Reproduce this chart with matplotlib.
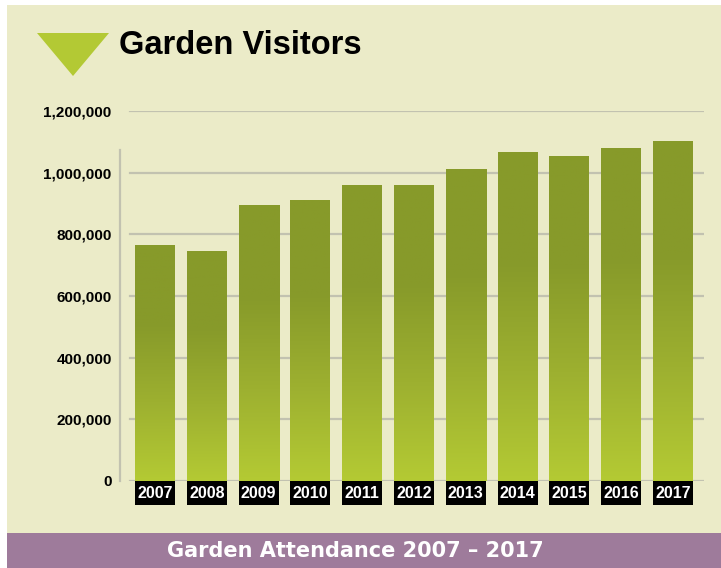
import numpy as np
import matplotlib.pyplot as plt
from matplotlib.patches import Rectangle, Polygon
from matplotlib.colors import LinearSegmentedColormap

# data
years = ['2007', '2008', '2009', '2010', '2011', '2012', '2013', '2014', '2015', '2016', '2017']
visitors = [765000, 743000, 895000, 911000, 960000, 960000, 1009000, 1064000, 1054000, 1080000, 1100000]
yticks = [0, 200000, 400000, 600000, 800000, 1000000, 1200000]
title = 'Garden Visitors'
footer = 'Garden Attendance 2007 \u2013 2017'

W, H = 721, 568
bg = '#EBEBC8'
purple = '#9E7B9B'
narrow = ['Liberation Sans Narrow', 'Liberation Sans', 'DejaVu Sans']

fig = plt.figure(figsize=(W / 100, H / 100), dpi=100)
fig.patch.set_facecolor('white')

def px(x0, y0, x1, y1):
    # pixel box (top-left origin) -> figure fraction
    return [x0 / W, 1 - y1 / H, (x1 - x0) / W, (y1 - y0) / H]

# background panel and footer band
bgax = fig.add_axes([0, 0, 1, 1])
bgax.set_xlim(0, W)
bgax.set_ylim(H, 0)
bgax.axis('off')
bgax.add_patch(Rectangle((7, 5), W - 7, 528, facecolor=bg, edgecolor='none'))
bgax.add_patch(Rectangle((7, 533), W - 7, H - 533, facecolor=purple, edgecolor='none'))
bgax.add_patch(Polygon([(37, 33), (109, 33), (73, 76)], closed=True,
                       facecolor='#B3C934', edgecolor='none'))
bgax.text(119, 45, title, fontsize=23.5, fontweight='bold', color='black',
          family=['Liberation Sans', 'DejaVu Sans'], va='center', ha='left')
bgax.text(355, 551, footer, fontsize=15, fontweight='bold', color='white',
          family=['DejaVu Sans'], va='center', ha='center')

# main chart axes: left 120px, right 704px, y0 at 481px, 1.2M at 111px
ax = fig.add_axes(px(120, 111, 704, 481))
ax.patch.set_alpha(0)
pitch = (673 - 155) / 10
x = np.arange(len(years))
for s in ax.spines.values():
    s.set_visible(False)
ax.set_xticks([])
ax.set_yticks(yticks)
ax.set_yticklabels([f'{v:,}' for v in yticks], fontsize=11, fontweight='bold',
                   family=narrow)
ax.tick_params(axis='y', length=0, pad=6)

xlim = ((120 - 155) / pitch, (704 - 155) / pitch)
xmin_frac = (130 - 120) / (704 - 120)
for v in yticks:
    ax.axhline(v, xmin=xmin_frac, xmax=1, color='#C2C2B0', lw=1.6, zorder=1)
ax.axvline(xlim[0], ymin=0, ymax=(481 - 150) / 370, color='#C2C2B0',
           lw=1.6, zorder=1, clip_on=False)

bw = 40 / pitch
cmap = LinearSegmentedColormap.from_list('g', ['#B4CA34', '#9DB030', '#879A2A', '#879A2A'])
grad = np.linspace(0, 1, 256).reshape(-1, 1)
bars = ax.bar(x, visitors, width=bw, color='none', zorder=2)
for b in bars:
    x0, w, h = b.get_x(), b.get_width(), b.get_height()
    ax.imshow(grad, cmap=cmap, origin='lower', aspect='auto',
              extent=(x0, x0 + w, 0, h), zorder=2)
ax.set_xlim(*xlim)
ax.set_ylim(0, 1200000)

# year label boxes under the bars
box_h = 24 / 370 * 1200000
ax.bar(x, [box_h] * len(x), bottom=-box_h, width=bw, color='black',
       clip_on=False, zorder=3)
for xi, yr in zip(x, years):
    ax.text(xi, -box_h / 2, yr, color='white', fontsize=11.5, fontweight='bold',
            family=narrow, ha='center', va='center', clip_on=False, zorder=4)

fig.savefig('out.png', dpi=100, facecolor=fig.get_facecolor())
